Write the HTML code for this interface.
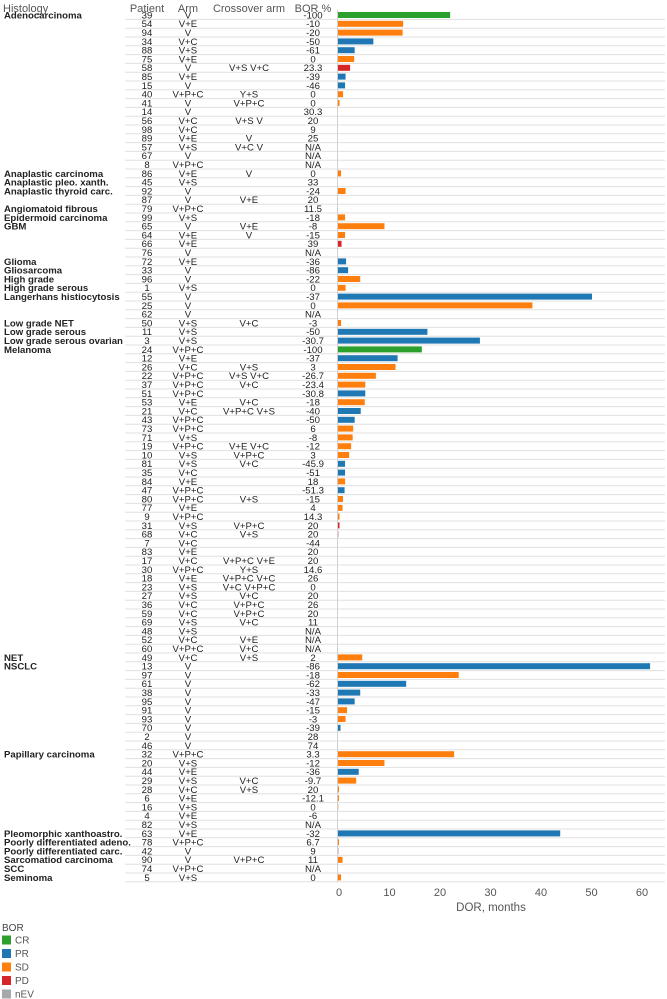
<!DOCTYPE html>
<html><head><meta charset="utf-8">
<style>
html,body{margin:0;padding:0;background:#fff;}
svg{display:block;font-family:"Liberation Sans",Arial,sans-serif;}
</style></head>
<body>
<svg id="chart" width="667" height="999" viewBox="0 0 667 999" xmlns="http://www.w3.org/2000/svg">
<g id="hdr" font-size="11" fill="#555">
<text x="3" y="12">Histology</text>
<text x="147" y="12" text-anchor="middle">Patient</text>
<text x="188" y="12" text-anchor="middle">Arm</text>
<text x="249" y="12" text-anchor="middle">Crossover arm</text>
<text x="313" y="12" text-anchor="middle">BOR %</text>
</g>
<g id="grid"></g>
<g id="rows"></g>
<g id="bars"></g>
<g id="axis"></g>
<g id="legend"></g>
</svg>
<script>
const histology = ["Adenocarcinoma","","","","","","","","","","","","","","","","","",
"Anaplastic carcinoma","Anaplastic pleo. xanth.","Anaplastic thyroid carc.","","Angiomatoid fibrous","Epidermoid carcinoma",
"GBM","","","","Glioma","Gliosarcoma","High grade","High grade serous","Langerhans histiocytosis","","",
"Low grade NET","Low grade serous","Low grade serous ovarian","Melanoma","","","","","","","","","","","","","","","","","","","","","","","","","","","","","","","","","","",
"NET","NSCLC","","","","","","","","","",
"Papillary carcinoma","","","","","","","","",
"Pleomorphic xanthoastro.","Poorly differentiated adeno.","Poorly differentiated carc.","Sarcomatiod carcinoma","SCC","Seminoma"];
const patients = [39,54,94,34,88,75,58,85,15,40,41,14,56,98,89,57,67,8,86,45,92,87,79,99,65,64,66,76,72,33,96,1,55,25,62,50,11,3,24,12,26,22,37,51,53,21,43,73,71,19,10,81,35,84,47,80,77,9,31,68,7,83,17,30,18,23,27,36,59,69,48,52,60,49,13,97,61,38,95,91,93,70,2,46,32,20,44,29,28,6,16,4,82,63,78,42,90,74,5];
const arms = ["V","V+E","V","V+C","V+S","V+E","V","V+E","V","V+P+C","V","V","V+C","V+C","V+E","V+S","V","V+P+C","V+E","V+S","V","V","V+P+C","V+S","V","V+E","V+E","V","V+E","V","V","V+S","V","V","V","V+S","V+S","V+S","V+P+C","V+E","V+C","V+P+C","V+P+C","V+P+C","V+E","V+C","V+P+C","V+P+C","V+S","V+P+C","V+S","V+S","V+C","V+E","V+P+C","V+P+C","V+E","V+P+C","V+S","V+C","V+C","V+E","V+C","V+P+C","V+E","V+S","V+S","V+C","V+C","V+S","V+S","V+C","V+P+C","V+C","V","V","V","V","V","V","V","V","V","V","V+P+C","V+S","V+E","V+S","V+C","V+E","V+S","V+E","V+S","V+E","V+P+C","V","V","V+P+C","V+S"];
const crossover = ["","","","","","","V+S V+C","","","Y+S","V+P+C","","V+S V","","V","V+C V","","","V","","","V+E","","","V+E","V","","","","","","","","","","V+C","","","","","V+S","V+S V+C","V+C","","V+C","V+P+C V+S","","","","V+E V+C","V+P+C","V+C","","","","V+S","","","V+P+C","V+S","","","V+P+C V+E","Y+S","V+P+C V+C","V+C V+P+C","V+C","V+P+C","V+P+C","V+C","","V+E","V+C","V+S","","","","","","","","","","","","","","V+C","V+S","","","","","","","","V+P+C","",""];
const borPct = ["-100","-10","-20","-50","-61","0","23.3","-39","-46","0","0","30.3","20","9","25","N/A","N/A","N/A","0","33","-24","20","11.5","-18","-8","-15","39","N/A","-36","-86","-22","0","-37","0","N/A","-3","-50","-30.7","-100","-37","3","-26.7","-23.4","-30.8","-18","-40","-50","6","-8","-12","3","-45.9","-51","18","-51.3","-15","4","14.3","20","20","-44","20","20","14.6","26","0","20","26","20","11","N/A","N/A","N/A","2","-86","-18","-62","-33","-47","-15","-3","-39","28","74","3.3","-12","-36","-9.7","20","-12.1","0","-6","N/A","-32","6.7","9","11","N/A","0"];
const dorMonths = [22.3,13.0,12.9,7.1,3.4,3.3,2.5,1.6,1.5,1.1,0.4,0,0,0,0,0,0,0,0.7,0,1.6,0,0,1.5,9.3,1.5,0.8,0,1.7,2.1,4.5,1.6,50.4,38.6,0,0.7,17.8,28.2,16.7,11.9,11.5,7.6,5.5,5.5,5.4,4.6,3.4,3.1,3.0,2.7,2.3,1.5,1.5,1.5,1.4,1.1,1.0,0.4,0.4,0.15,0,0,0,0,0,0,0,0,0,0,0,0,0,4.9,61.9,24.0,13.6,4.5,3.4,1.9,1.6,0.6,0,0,23.1,9.3,4.2,3.7,0.3,0.3,0.12,0,0,44.1,0.3,0.15,1.0,0,0.7];
const response = ["CR","SD","SD","PR","PR","SD","PD","PR","PR","SD","SD","nEV","nEV","nEV","nEV","nEV","nEV","nEV","SD","nEV","SD","nEV","nEV","SD","SD","SD","PD","nEV","PR","PR","SD","SD","PR","SD","nEV","SD","PR","PR","CR","PR","SD","SD","SD","PR","SD","PR","PR","SD","SD","SD","SD","PR","PR","SD","PR","SD","SD","SD","PD","PD","nEV","nEV","nEV","nEV","nEV","nEV","nEV","nEV","nEV","nEV","nEV","nEV","nEV","SD","PR","SD","PR","PR","PR","SD","SD","PR","nEV","nEV","SD","SD","PR","SD","SD","SD","SD","nEV","nEV","PR","SD","PD","SD","nEV","SD"];
const xTicks = [0,10,20,30,40,50,60];
const legendCats = ["CR","PR","SD","PD","nEV"];
const catColors = {CR:"#2ca02c",PR:"#1f77b4",SD:"#ff7f0e",PD:"#d62728",nEV:"#a5a9ab"};

const NS="http://www.w3.org/2000/svg";
const X0=337.5, XS=5.05, Y0=15, RH=8.8;
const xScale=v=>X0+v*XS;
const yScale=i=>Y0+i*RH;
function mk(tag,attrs,parent,text){const e=document.createElementNS(NS,tag);for(const k in attrs)e.setAttribute(k,attrs[k]);if(text!==undefined)e.textContent=text;parent.appendChild(e);return e;}
const grid=document.getElementById('grid'),rows=document.getElementById('rows'),bars=document.getElementById('bars'),axis=document.getElementById('axis'),legend=document.getElementById('legend');
const n=patients.length;
for(let i=0;i<n;i++){
  const y=yScale(i);
  const gl=mk('line',{x1:125,x2:665,y1:y+4.4,y2:y+4.4,stroke:"#e0e0e0","stroke-width":1},grid);
  
  
  const g=mk('g',{'font-size':9.6,fill:"#222"},rows);
  
  
  if(histology[i]){
    const t=mk('text',{x:4,y:y+3.4,'font-weight':'bold'},g,histology[i]);
    
    
  }
  const cols=[[147,patients[i],'patient-id'],[188,arms[i],'arm'],[249,crossover[i],'crossover-arm'],[313,borPct[i],'bor-percent']];
  for(const c of cols){
    if(c[1]===''||c[1]===undefined)continue;
    const t=mk('text',{x:c[0],y:y+3.4,'text-anchor':'middle'},g,String(c[1]));
    
    
  }
  if(dorMonths[i]>0){
    const w=Math.max(0.8,xScale(dorMonths[i])-X0);
    const r=mk('rect',{x:X0,y:y-3,width:w,height:6,fill:catColors[response[i]]},bars);
    
    
  }
}
const ax=mk('line',{x1:X0,x2:X0,y1:yScale(0)-5,y2:yScale(n-1)+5,stroke:"#d0d0d0","stroke-width":1},axis);


for(const t of xTicks){
  const tx=mk('text',{x:xScale(t)+1.5,y:896,'text-anchor':'middle','font-size':11,fill:"#555"},axis,String(t));
  
  
}
const xt=mk('text',{x:491,y:911,'text-anchor':'middle','font-size':11.5,fill:"#555"},axis,"DOR, months");


const lt=mk('text',{x:2,y:931,'font-size':10,fill:"#444"},legend,"BOR");


legendCats.forEach((c,k)=>{
  const cy=940+k*13.5;
  const g=mk('g',{},legend);
  
  
  mk('rect',{x:2,y:cy-4.5,width:9,height:9,fill:catColors[c]},g);
  mk('text',{x:15,y:cy+3.5,'font-size':10,fill:"#555"},g,c);
});
</script>
</body></html>
